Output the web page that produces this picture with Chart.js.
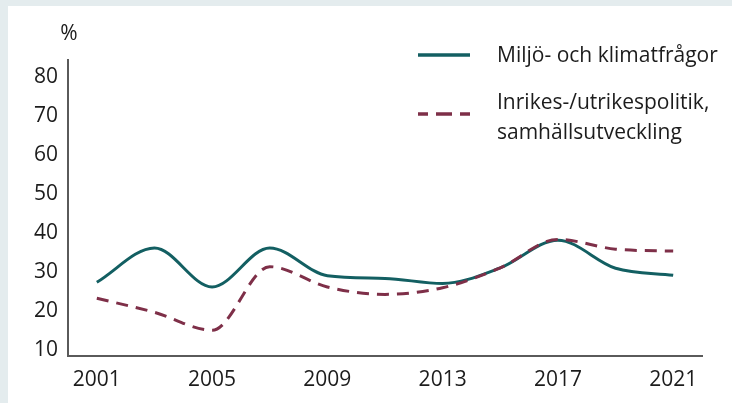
<!DOCTYPE html>
<html>
<head>
<meta charset="utf-8">
<script src="https://cdn.jsdelivr.net/npm/chart.js@4/dist/chart.umd.min.js"></script>
<style>
  body { margin: 0; background: #e4ecee; }
  #wrap { width: 732px; height: 403px; }
</style>
</head>
<body>
<div id="wrap"><canvas id="myChart" width="732" height="403"></canvas></div>
<script>
const years = [2001, 2003, 2005, 2007, 2009, 2011, 2013, 2015, 2017, 2019, 2021];
const miljo = [27.4, 36.2, 26.2, 36.2, 29.1, 28.4, 27.1, 31.1, 38.2, 31.0, 29.2];
const inrikes = [23.3, 19.7, 15.1, 31.4, 26.2, 24.3, 26.0, 31.1, 38.4, 35.9, 35.4];
const seriesNames = ['Miljö- och klimatfrågor', 'Inrikes-/utrikespolitik,\nsamhällsutveckling'];
const yTicks = [10, 20, 30, 40, 50, 60, 70, 80];
const xTicks = [2001, 2005, 2009, 2013, 2017, 2021];

const teal = '#135f62';
const wine = '#7e2f48';
const font = '"Open Sans", Lato, sans-serif';

// grey frame with white panel behind the chart
const panel = {
  id: 'panel',
  beforeDraw(chart) {
    const c = chart.ctx;
    c.save();
    c.fillStyle = '#e4ecee';
    c.fillRect(0, 0, chart.width, chart.height);
    c.fillStyle = '#ffffff';
    c.fillRect(8, 6, chart.width - 8, chart.height - 6);
    c.restore();
  }
};

// legend top right + "%" unit label
const sideLegend = {
  id: 'sideLegend',
  afterDraw(chart) {
    const c = chart.ctx;
    c.save();
    c.font = '21px ' + font;
    c.fillStyle = '#1c1c1c';
    c.textBaseline = 'middle';
    c.textAlign = 'center';
    c.fillText('%', 69, 34);

    c.textAlign = 'left';
    const rows = [{ y: 55, ty: 56 }, { y: 114, ty: 103 }];
    chart.data.datasets.forEach((ds, i) => {
      const r = rows[i];
      c.beginPath();
      c.strokeStyle = ds.borderColor;
      c.lineWidth = 3.5;
      c.lineCap = 'butt';
      if (ds.borderDash) {
        c.setLineDash([16, 8]);
        c.lineDashOffset = 6;
      } else {
        c.setLineDash([]);
      }
      c.moveTo(418, r.y);
      c.lineTo(470, r.y);
      c.stroke();
      c.setLineDash([]);
      c.font = '21px ' + font;
      ds.label.split('\n').forEach((t, k) => {
        c.fillText(t, 497, r.ty + k * 30);
      });
    });
    c.restore();
  }
};

const ctx = document.getElementById('myChart');

new Chart(ctx, {
  type: 'line',
  data: {
    datasets: [
      {
        label: seriesNames[0],
        data: years.map((x, i) => ({ x: x, y: miljo[i] })),
        borderColor: teal,
        borderWidth: 3,
        pointRadius: 0,
        cubicInterpolationMode: 'monotone',
        order: 2
      },
      {
        label: seriesNames[1],
        data: years.map((x, i) => ({ x: x, y: inrikes[i] })),
        borderColor: wine,
        borderWidth: 3,
        borderDash: [12, 8],
        pointRadius: 0,
        cubicInterpolationMode: 'monotone',
        order: 1
      }
    ]
  },
  options: {
    responsive: false,
    animation: false,
    layout: { padding: { top: 60, right: 30, left: 0, bottom: 0 } },
    plugins: {
      legend: { display: false },
      tooltip: { enabled: false }
    },
    scales: {
      x: {
        type: 'linear',
        min: 2000,
        max: 2022,
        afterBuildTicks: (s) => { s.ticks = xTicks.map(v => ({ value: v })); },
        afterFit: (s) => { s.height = 47; },
        grid: { display: false, drawTicks: false },
        border: { display: true, color: '#5a5a5a', width: 2 },
        ticks: {
          padding: 11,
          color: '#1c1c1c',
          font: { family: font, size: 21 },
          callback: (v) => String(v),
          maxRotation: 0,
          autoSkip: false
        }
      },
      y: {
        min: 8.5,
        max: 84.4,
        afterBuildTicks: (s) => { s.ticks = yTicks.map(v => ({ value: v })); },
        afterFit: (s) => { s.width = 68; },
        grid: { display: false, drawTicks: false },
        border: { display: true, color: '#5a5a5a', width: 2 },
        ticks: {
          padding: 10,
          color: '#1c1c1c',
          font: { family: font, size: 21 },
          callback: (v) => String(v),
          autoSkip: false
        }
      }
    }
  },
  plugins: [panel, sideLegend]
});
</script>
</body>
</html>
